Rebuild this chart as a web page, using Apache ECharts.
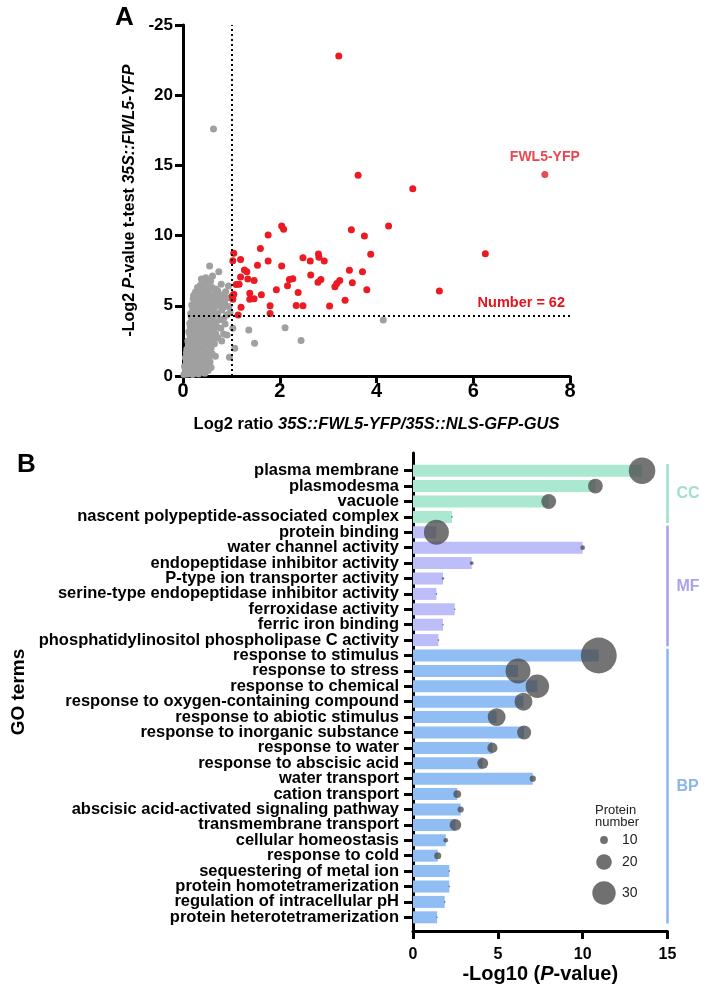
<!DOCTYPE html>
<html>
<head>
<meta charset="utf-8">
<script src="https://cdn.jsdelivr.net/npm/echarts@6/dist/echarts.min.js"></script>
<style>
html, body { margin: 0; padding: 0; background: #fff; }
#main { width: 706px; height: 993px; }
</style>
</head>
<body>
<div id="main"></div>
<script>
// ---- panel A data (log2 ratio, -log2 p) ----
var grayPts = [
  [0.02,0.1],[0.06,0.3],[0.1,0.15],[0.15,0.4],[0.2,0.1],[0.26,0.3],[0.32,0.15],[0.38,0.35],[0.45,0.2],[0.52,0.4],[0.58,0.6],
  [0.03,0.7],[0.09,0.9],[0.14,0.65],[0.2,0.85],[0.25,0.6],[0.31,0.8],[0.37,0.7],[0.43,0.9],[0.5,0.75],[0.56,1.0],
  [0.05,1.3],[0.1,1.5],[0.16,1.2],[0.22,1.45],[0.28,1.15],[0.34,1.4],[0.41,1.25],[0.47,1.5],[0.54,1.35],[0.6,1.6],[0.67,1.4],
  [0.08,1.9],[0.13,2.1],[0.19,1.8],[0.25,2.05],[0.31,1.85],[0.37,2.1],[0.44,1.9],[0.5,2.2],[0.58,2.0],[0.65,2.3],
  [0.1,2.5],[0.16,2.75],[0.22,2.45],[0.28,2.7],[0.35,2.5],[0.41,2.8],[0.48,2.55],[0.55,2.85],[0.62,2.6],[0.72,2.7],[0.8,2.5],
  [0.12,3.15],[0.18,3.35],[0.24,3.05],[0.3,3.3],[0.37,3.1],[0.43,3.4],[0.5,3.15],[0.57,3.45],[0.64,3.2],[0.7,3.5],[0.84,3.0],
  [0.14,3.75],[0.2,4.0],[0.26,3.7],[0.33,3.95],[0.4,3.75],[0.46,4.05],[0.53,3.8],[0.6,4.1],[0.68,3.85],[0.76,4.0],[0.87,3.7],
  [0.16,4.45],[0.22,4.65],[0.29,4.4],[0.35,4.7],[0.42,4.45],[0.49,4.75],[0.56,4.5],[0.63,4.8],[0.72,4.45],[0.8,4.7],[0.9,4.35],[0.97,4.5],
  [0.18,5.05],[0.25,5.3],[0.32,5.0],[0.39,5.3],[0.46,5.05],[0.53,5.35],[0.6,5.1],[0.68,5.3],[0.76,5.05],[0.86,5.2],[0.95,4.95],
  [0.22,5.75],[0.29,5.6],[0.36,5.9],[0.43,5.65],[0.5,5.95],[0.58,5.7],[0.66,5.95],[0.75,5.6],[0.84,5.8],[0.92,5.55],
  [0.3,6.3],[0.36,6.46],[0.44,6.2],[0.51,6.65],[0.6,6.3],[0.79,6.53],[0.94,6.41],[0.88,6.0],
  [0.55,7.83],[0.74,7.43],[0.61,7.12],[0.47,7.0],
  [0.05,0.45],[0.12,0.3],[0.18,0.55],[0.23,0.35],[0.29,0.5],[0.35,0.5],[0.41,0.45],[0.48,0.55],
  [0.07,1.05],[0.13,0.95],[0.18,1.1],[0.24,1.0],[0.3,1.05],[0.36,1.0],[0.45,1.1],[0.52,1.15],
  [0.07,1.65],[0.13,1.6],[0.2,1.55],[0.27,1.65],[0.33,1.6],[0.4,1.6],[0.47,1.7],[0.56,1.7],
  [0.11,2.3],[0.17,2.35],[0.23,2.25],[0.29,2.35],[0.36,2.3],[0.43,2.35],[0.52,2.45],[0.6,2.4],
  [0.14,2.95],[0.2,2.95],[0.26,2.9],[0.33,2.95],[0.39,2.9],[0.46,2.95],[0.53,3.0],[0.6,2.95],[0.68,3.0],
  [0.15,3.5],[0.22,3.55],[0.28,3.5],[0.35,3.55],[0.41,3.55],[0.48,3.6],[0.55,3.6],[0.62,3.65],[0.78,3.4],
  [0.17,4.2],[0.24,4.2],[0.3,4.15],[0.37,4.25],[0.44,4.25],[0.51,4.3],[0.58,4.3],[0.65,4.35],[0.84,4.1],
  [0.2,4.85],[0.27,4.9],[0.33,4.85],[0.4,4.9],[0.47,4.9],[0.55,4.95],[0.67,4.95],[0.84,4.9],
  [0.21,5.5],[0.35,5.45],[0.42,5.45],[0.49,5.5],[0.56,5.5],[0.64,5.55],[0.72,5.45],[0.8,5.4],
  [0.26,6.0],[0.33,6.1],[0.4,6.0],[0.47,6.1],[0.55,6.2],[0.68,6.2],[0.72,6.05],
  [0.38,6.9],[0.48,6.6],[0.57,6.75],
  [0.63,17.6],[0.96,1.33],[1.07,1.97],[1.03,3.4],[0.91,2.92],[1.36,3.28],[1.48,2.33],[2.11,3.44],[2.44,2.52],[4.14,3.99]
];
var redPts = [
  [3.22,22.8],[3.62,14.29],[4.75,13.34],[2.04,10.68],[2.08,10.45],[1.76,10.04],[3.48,10.42],[3.75,9.97],[4.25,10.68],
  [1.6,9.09],[6.25,8.71],[3.88,8.67],[1.05,8.74],[1.03,8.21],[1.19,8.29],[1.76,8.19],[1.54,7.88],[2.04,7.83],[2.48,8.43],
  [2.63,8.19],[2.8,8.69],[2.81,8.45],[2.92,8.19],[1.27,7.55],[1.32,7.43],[1.19,7.05],[1.34,6.91],[1.47,6.81],[1.1,6.51],
  [1.16,6.53],[2.64,7.19],[2.2,6.88],[2.27,6.93],[2.16,6.43],[1.93,6.15],[2.85,6.88],[2.79,6.67],[3.24,6.81],[3.14,6.36],
  [3.18,6.58],[3.44,7.53],[3.71,7.43],[3.5,6.65],[3.8,6.15],[5.3,6.05],[1.05,5.82],[1.03,5.46],[1.38,5.89],[1.38,5.46],
  [1.47,5.51],[1.62,5.79],[2.38,5.94],[3.35,5.39],[1.2,4.89],[1.8,5.01],[2.34,5.03],[2.48,5.01],[3.03,4.99],[1.14,4.34],
  [1.8,4.46],[1.02,5.7]
];
var baitPt = [[7.48,14.36]];
var ratioCut = 1;
var pCut = 4.32;

// ---- panel B data ----
var goTerms = [
  'plasma membrane','plasmodesma','vacuole','nascent polypeptide-associated complex',
  'protein binding','water channel activity','endopeptidase inhibitor activity','P-type ion transporter activity',
  'serine-type endopeptidase inhibitor activity','ferroxidase activity','ferric iron binding',
  'phosphatidylinositol phospholipase C activity',
  'response to stimulus','response to stress','response to chemical','response to oxygen-containing compound',
  'response to abiotic stimulus','response to inorganic substance','response to water','response to abscisic acid',
  'water transport','cation transport','abscisic acid-activated signaling pathway','transmembrane transport',
  'cellular homeostasis','response to cold','sequestering of metal ion','protein homotetramerization',
  'regulation of intracellular pH','protein heterotetramerization'
];
var logP = [13.5,10.75,8.0,2.3, 1.38,10.0,3.46,1.77,1.38,2.46,1.77,1.5,
  10.95,6.19,7.33,6.51,4.93,6.55,4.68,4.11,7.06,2.61,2.81,2.5,1.93,1.46,2.14,2.14,1.87,1.42];
var proteinNum = [34,19,19,2, 32,6,5,3,2,2,2,2,
  46,32,30,23,23,18,13,14,8,10,8,15,6,9,2,2,2,2];
var groupNames = ['CC','MF','BP'];
var groupStart = [0,4,12];
var groupEnd = [3,11,29];
var legendNums = [10,20,30];

var FONT = '"Liberation Sans", Arial, Helvetica, sans-serif';
var barColors = ['#aae8d1','#bdbdf9','#90bdf4'];
var lineColors = ['#9ce2c4','#aa9deb','#88b6ee'];
var textColors = ['#9fe2c8','#a9a2f0','#89b6ee'];

function groupOf(i) {
  for (var g = groupStart.length - 1; g >= 0; g--) if (i >= groupStart[g]) return g;
  return 0;
}
function bubbleSize(n) { return n * 0.78; }

var chart = echarts.init(document.getElementById('main'));

var axisBlack = { color: '#000', width: 3 };
var boldTxt = { color: '#000', fontWeight: 'bold', fontFamily: FONT };

var legendGraphics = [
  { type: 'text', left: 595, top: 804, style: { text: 'Protein\nnumber', fill: '#222', font: '13px ' + FONT, align: 'center', lineHeight: 12 } }
];
var legendY = [840, 862, 893];
legendNums.forEach(function (n, k) {
  legendGraphics.push({ type: 'circle', shape: { cx: 604, cy: legendY[k], r: bubbleSize(n) / 2 }, style: { fill: '#707070' } });
  legendGraphics.push({ type: 'text', x: 622, y: legendY[k], style: { text: String(n), fill: '#222', font: '14px ' + FONT, verticalAlign: 'middle' } });
});

chart.setOption({
  backgroundColor: '#fff',
  animation: false,
  title: [
    { text: 'A', left: 110, top: 0, textStyle: { fontSize: 26, fontWeight: 'bold', color: '#000', fontFamily: FONT } },
    { text: 'B', left: 12, top: 447, textStyle: { fontSize: 26, fontWeight: 'bold', color: '#000', fontFamily: FONT } }
  ],
  graphic: legendGraphics,
  grid: [
    { left: 183, top: 25, width: 387, height: 351 },
    { left: 413, top: 463, width: 254.5, height: 462 },
    { left: 413, top: 453, width: 254.5, height: 478 }
  ],
  xAxis: [
    {
      gridIndex: 0, type: 'value', min: 0, max: 8, interval: 2,
      axisLine: { show: true, lineStyle: axisBlack },
      axisTick: { show: true, length: 7, lineStyle: axisBlack },
      axisLabel: Object.assign({ fontSize: 20, margin: 5 }, boldTxt),
      splitLine: { show: false },
      name: 'Log2 ratio {i|35S::FWL5-YFP/35S::NLS-GFP-GUS}',
      nameLocation: 'middle', nameGap: 40,
      nameTextStyle: Object.assign({ fontSize: 16.5, rich: { i: Object.assign({ fontSize: 16.5, fontStyle: 'italic' }, boldTxt) } }, boldTxt)
    },
    { gridIndex: 1, type: 'value', min: 0, max: 15, show: false },
    {
      gridIndex: 2, type: 'value', min: 0, max: 15, interval: 5,
      axisLine: { show: true, lineStyle: axisBlack },
      axisTick: { show: true, length: 8, lineStyle: axisBlack },
      axisLabel: Object.assign({ fontSize: 16, margin: 16 }, boldTxt),
      splitLine: { show: false },
      name: '-Log10 ({i|P}-value)',
      nameLocation: 'middle', nameGap: 33,
      nameTextStyle: Object.assign({ fontSize: 20, rich: { i: Object.assign({ fontSize: 20, fontStyle: 'italic' }, boldTxt) } }, boldTxt)
    }
  ],
  yAxis: [
    {
      gridIndex: 0, type: 'value', min: 0, max: 25, interval: 5,
      axisLine: { show: true, lineStyle: axisBlack },
      axisTick: { show: true, length: 8, lineStyle: axisBlack },
      axisLabel: Object.assign({ fontSize: 17, margin: 10, formatter: function (v) { return v === 25 ? '-25' : String(v); } }, boldTxt),
      splitLine: { show: false },
      name: '-Log2 {i|P}-value t-test {i|35S::FWL5-YFP}',
      nameLocation: 'middle', nameGap: 44, nameRotate: 90,
      nameTextStyle: Object.assign({ fontSize: 16, rich: { i: Object.assign({ fontSize: 16, fontStyle: 'italic' }, boldTxt) } }, boldTxt)
    },
    {
      gridIndex: 1, type: 'category', data: goTerms, inverse: true,
      axisLine: { show: false },
      axisTick: { show: true, alignWithLabel: true, length: 9, lineStyle: axisBlack },
      axisLabel: Object.assign({ fontSize: 16.5, margin: 14, interval: 0 }, boldTxt),
      splitLine: { show: false }
    },
    {
      gridIndex: 2, type: 'value', min: 0, max: 1,
      axisLine: { show: true, lineStyle: axisBlack },
      axisTick: { show: false }, axisLabel: { show: false }, splitLine: { show: false },
      name: 'GO terms', nameLocation: 'middle', nameGap: 385, nameRotate: 90,
      nameTextStyle: Object.assign({ fontSize: 19 }, boldTxt)
    }
  ],
  series: [
    {
      type: 'scatter', xAxisIndex: 0, yAxisIndex: 0, data: grayPts, symbolSize: 7,
      itemStyle: { color: '#a0a0a0', opacity: 1 }, z: 2,
      markLine: {
        silent: true, symbol: 'none', animation: false,
        lineStyle: { type: [2, 3], color: '#000', width: 2 },
        label: { show: false },
        data: [
          { xAxis: ratioCut },
          { yAxis: pCut, label: { show: true, position: 'insideEndTop', distance: 5,
              formatter: 'Number = ' + (redPts.length + baitPt.length),
              color: '#e5141c', fontWeight: 'bold', fontSize: 14.5, fontFamily: FONT } }
        ]
      }
    },
    {
      type: 'scatter', xAxisIndex: 0, yAxisIndex: 0, data: redPts, symbolSize: 7,
      itemStyle: { color: '#ec1a22', opacity: 1 }, z: 3
    },
    {
      type: 'scatter', xAxisIndex: 0, yAxisIndex: 0, data: baitPt, symbolSize: 7,
      itemStyle: { color: '#ea4a52', opacity: 1 }, z: 3,
      label: { show: true, position: 'top', distance: 7, formatter: 'FWL5-YFP',
        color: '#e8474f', fontWeight: 'bold', fontSize: 14, fontFamily: FONT }
    },
    {
      type: 'bar', xAxisIndex: 1, yAxisIndex: 1, barWidth: 12,
      data: logP.map(function (v, i) { return { value: v, itemStyle: { color: barColors[groupOf(i)] } }; }),
      z: 2
    },
    {
      type: 'scatter', xAxisIndex: 1, yAxisIndex: 1,
      data: logP.map(function (v, i) { return [v, i, proteinNum[i]]; }),
      symbolSize: function (d) { return bubbleSize(d[2]); },
      itemStyle: { color: 'rgba(72,72,72,0.76)', opacity: 1 }, z: 3
    },
    {
      type: 'custom', xAxisIndex: 1, yAxisIndex: 1, clip: false, z: 4,
      data: groupNames.map(function (n, g) { return [15, groupStart[g], groupEnd[g]]; }),
      encode: { x: 0, y: 1 },
      renderItem: function (params, api) {
        var g = params.dataIndex;
        var half = api.size([0, 1])[1] / 2;
        var p0 = api.coord([api.value(0), api.value(1)]);
        var p1 = api.coord([api.value(0), api.value(2)]);
        return {
          type: 'group',
          children: [
            { type: 'line', shape: { x1: p0[0], y1: p0[1] - half + 1, x2: p1[0], y2: p1[1] + half - 1.5 },
              style: { stroke: lineColors[g], lineWidth: 2.5 } },
            { type: 'text', x: p0[0] + 9, y: (p0[1] + p1[1]) / 2,
              style: { text: groupNames[g], fill: textColors[g], font: 'bold 16px ' + FONT, align: 'left', verticalAlign: 'middle' } }
          ]
        };
      }
    }
  ]
});
</script>
</body>
</html>
